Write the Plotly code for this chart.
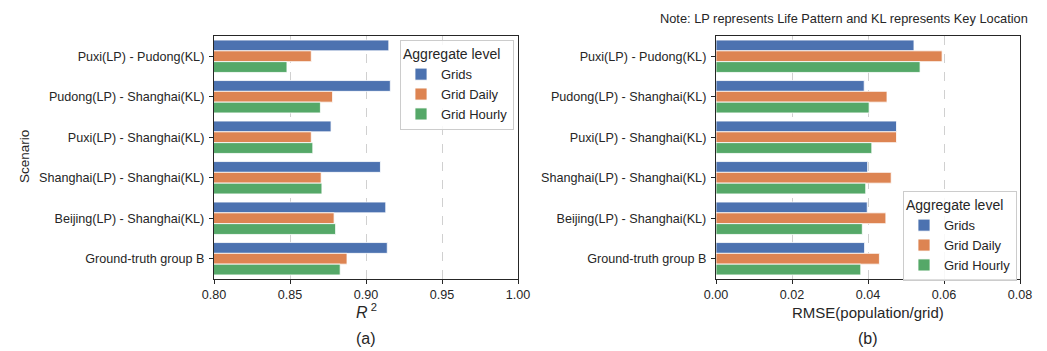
import plotly.graph_objects as go

W, H = 1047, 351

scenarios = [
    "Puxi(LP) - Pudong(KL)",
    "Pudong(LP) - Shanghai(KL)",
    "Puxi(LP) - Shanghai(KL)",
    "Shanghai(LP) - Shanghai(KL)",
    "Beijing(LP) - Shanghai(KL)",
    "Ground-truth group B",
]
levels = ["Grids", "Grid Daily", "Grid Hourly"]
colors = ["#4C72B0", "#DD8452", "#55A868"]

r2_grids = [0.915, 0.916, 0.877, 0.9095, 0.913, 0.914]
r2_daily = [0.864, 0.878, 0.864, 0.8705, 0.879, 0.8875]
r2_hourly = [0.848, 0.870, 0.865, 0.871, 0.880, 0.883]

rmse_grids = [0.0521, 0.0390, 0.0475, 0.0399, 0.0398, 0.0391]
rmse_daily = [0.0595, 0.0450, 0.0475, 0.0461, 0.0447, 0.0430]
rmse_hourly = [0.0537, 0.0403, 0.0410, 0.0394, 0.0385, 0.0381]

r2_ticks = [0.80, 0.85, 0.90, 0.95, 1.00]
rmse_ticks = [0.00, 0.02, 0.04, 0.06, 0.08]

FONT = "Liberation Sans, Arial, sans-serif"
INK = "#262626"


def px_x(p):
    return p / W


def px_y(p):
    return 1 - p / H


fig = go.Figure()

for name, col, vals in zip(levels, colors, [r2_grids, r2_daily, r2_hourly]):
    fig.add_trace(go.Bar(
        x=vals, y=scenarios, orientation="h", name=name,
        marker=dict(color=col, line=dict(color="white", width=0.8)),
        xaxis="x", yaxis="y", legend="legend",
    ))

for name, col, vals in zip(levels, colors, [rmse_grids, rmse_daily, rmse_hourly]):
    fig.add_trace(go.Bar(
        x=vals, y=scenarios, orientation="h", name=name,
        marker=dict(color=col, line=dict(color="white", width=0.8)),
        xaxis="x2", yaxis="y2", legend="legend2",
    ))

axis_common = dict(
    showline=True, linecolor=INK, linewidth=1.3, mirror=True,
    ticks="outside", ticklen=4, tickwidth=1.2, tickcolor=INK,
    tickfont=dict(family=FONT, size=12.6, color=INK),
    zeroline=False, automargin=False,
)

y_dom = [px_y(279), px_y(36)]

legend_common = dict(
    title=dict(text="Aggregate level", font=dict(size=14, family=FONT, color=INK)),
    xanchor="right", yanchor="top",
    bgcolor="rgba(255,255,255,0.85)", bordercolor="#cccccc", borderwidth=1,
    font=dict(size=13, family=FONT, color=INK),
    itemwidth=30, tracegroupgap=0,
)

fig.update_layout(
    width=W, height=H,
    margin=dict(l=0, r=0, t=0, b=0, pad=0, autoexpand=False),
    paper_bgcolor="white", plot_bgcolor="white",
    barmode="group", bargap=0.2, bargroupgap=0,
    font=dict(family=FONT, color=INK),
    xaxis=dict(
        domain=[px_x(214), px_x(518)], range=[0.8, 1.0],
        tickvals=r2_ticks, ticktext=[f"{v:.2f}" for v in r2_ticks],
        showgrid=True, gridcolor="#d0d0d0", griddash="dash", gridwidth=1,
        anchor="y", **axis_common,
    ),
    yaxis=dict(
        domain=y_dom, autorange="reversed", anchor="x",
        showgrid=False, ticklabelstandoff=2, **axis_common,
    ),
    xaxis2=dict(
        domain=[px_x(716), px_x(1020)], range=[0, 0.08],
        tickvals=rmse_ticks, ticktext=[f"{v:.2f}" for v in rmse_ticks],
        showgrid=True, gridcolor="#d0d0d0", griddash="dash", gridwidth=1,
        anchor="y2", **axis_common,
    ),
    yaxis2=dict(
        domain=y_dom, autorange="reversed", anchor="x2",
        showgrid=False, ticklabelstandoff=2, **axis_common,
    ),
    legend=dict(x=px_x(514), y=px_y(40), **legend_common),
    legend2=dict(x=px_x(1017), y=px_y(191), **legend_common),
)

annotations = [
    dict(text="<i>R</i><sup> 2</sup>", x=px_x(366), y=px_y(311), font=dict(size=16)),
    dict(text="(a)", x=px_x(366), y=px_y(338), font=dict(size=16)),
    dict(text="RMSE(population/grid)", x=px_x(868), y=px_y(312), font=dict(size=15)),
    dict(text="(b)", x=px_x(868), y=px_y(338), font=dict(size=16)),
    dict(text="Scenario", x=px_x(24), y=px_y(157), textangle=-90, font=dict(size=13.5)),
    dict(text="Note: LP represents Life Pattern and KL represents Key Location",
         x=px_x(1030), y=px_y(18), xanchor="right", font=dict(size=12.8)),
]
for a in annotations:
    a.setdefault("xanchor", "center")
    a["font"] = dict(family=FONT, color=INK, **a["font"])
    fig.add_annotation(xref="paper", yref="paper", yanchor="middle",
                       showarrow=False, **a)

fig.write_html("out.html")
